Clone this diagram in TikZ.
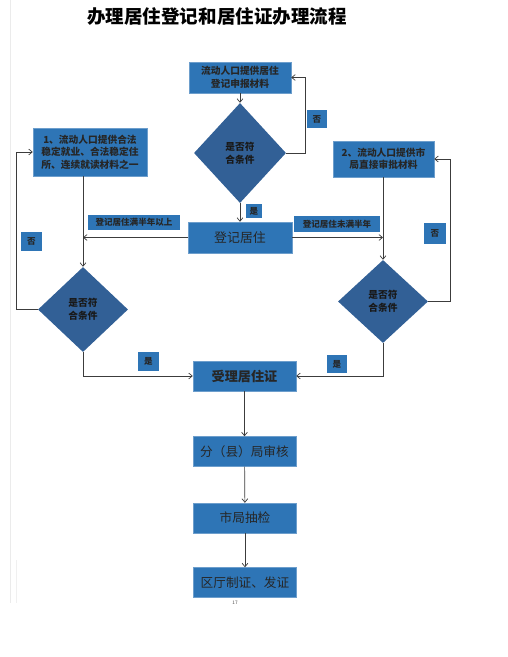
\documentclass[tikz,border=0pt]{standalone}
\usepackage{fontspec}
\setmainfont{Noto Sans CJK SC}
\usetikzlibrary{shapes.geometric,arrows.meta}
\definecolor{boxblue}{RGB}{46,117,182}
\definecolor{diablue}{RGB}{50,96,150}
\definecolor{linegray}{RGB}{60,60,60}
\tikzset{
  box/.style={rectangle, draw=boxblue!70!white, fill=boxblue, text=black!85, inner sep=1pt, align=center, font=\fontsize{8.3}{10.6}\selectfont\bfseries},
  bigbox/.style={box, minimum width=30.9mm, minimum height=9mm, font=\fontsize{10.8}{12}\selectfont},
  dia/.style={diamond, fill=diablue, text=black!90, inner sep=0pt, align=center, font=\fontsize{8.3}{11}\selectfont\bfseries},
  lbl/.style={rectangle, fill=boxblue, text=black!85, inner sep=0pt, align=center, font=\fontsize{7.3}{8}\selectfont\bfseries},
  arr/.style={draw=linegray, line width=0.6pt, -{Straight Barb[length=3pt,width=5pt]}}
}
\begin{document}
\begin{tikzpicture}[x=0.3mm,y=-0.3mm]
  \fill[white] (0,0) rectangle (507,657);
  \useasboundingbox (0,0) rectangle (507,657);
  % page edge
  \draw[black!8, line width=0.4pt] (10.5,0) -- (10.5,603);
  \draw[black!6, line width=0.4pt] (16,560) -- (16,603);
  % title
  \node[font=\fontsize{15.8}{17}\selectfont\bfseries] (title) at (217,17) {办理居住登记和居住证办理流程};
  % upper part
  \node[box, minimum width=30.6mm, minimum height=9.3mm] (A) at (240,77.5) {流动人口提供居住\\登记申报材料};
  \node[dia, minimum width=27.6mm, minimum height=30mm] (D1) at (240,153) {是否符\\合条件};
  \node[box, minimum width=31.2mm, minimum height=9.3mm, font=\fontsize{11}{12}\selectfont] (R) at (240,237.5) {登记居住};
  \node[box, minimum width=34.2mm, minimum height=14.4mm] (B) at (90,152) {1、流动人口提供合法\\稳定就业、合法稳定住\\所、连续就读材料之一};
  \node[dia, minimum width=27mm, minimum height=25.5mm] (D2) at (83,309.5) {是否符\\合条件};
  \node[box, minimum width=30.3mm, minimum height=10.8mm] (C) at (383.5,159) {2、流动人口提供市\\局直接审批材料};
  \node[dia, minimum width=27mm, minimum height=24.9mm] (D3) at (383,301.5) {是否符\\合条件};
  % lower part
  \node[bigbox, font=\fontsize{11.2}{12}\selectfont\bfseries] (S) at (244.5,376) {受理居住证};
  \node[bigbox] (F) at (244.5,451.5) {分（县）局审核};
  \node[bigbox] (J) at (245,518) {市局抽检};
  \node[bigbox] (Q) at (245,582.5) {区厅制证、发证};
  \node[font=\fontsize{4}{5}\selectfont, text=black!70] (page) at (235,603) {17};
  % labels
  \node[lbl, minimum width=27.6mm, minimum height=4.5mm] (l1) at (134,222.5) {登记居住满半年以上};
  \node[lbl, minimum width=25.8mm, minimum height=4.8mm] (l2) at (337,224) {登记居住未满半年};
  \node[lbl, minimum width=4.8mm, minimum height=4.2mm] (y1) at (254,211) {是};
  \node[lbl, minimum width=6mm, minimum height=5.4mm] (n1) at (317,119) {否};
  \node[lbl, minimum width=6.3mm, minimum height=5.7mm] (n2) at (31.5,241.5) {否};
  \node[lbl, minimum width=6.3mm, minimum height=5.7mm] (y2) at (148.5,361.5) {是};
  \node[lbl, minimum width=6.6mm, minimum height=6.3mm] (n3) at (435,233.5) {否};
  \node[lbl, minimum width=6mm, minimum height=5.4mm] (y3) at (337,364) {是};
  % connectors
  \draw[arr] (A) -- (D1);
  \draw[arr] (D1.east) -- ++(19,0) |- (A.east);
  \draw[arr] (D1) -- (R);
  \draw[arr] (R.west) -- (R.west -| D2.north);
  \draw[arr] (R.east) -- (R.east -| D3.north);
  \draw[arr] (B.south -| D2.north) -- (D2.north);
  \draw[arr] (C.south -| D3.north) -- (D3.north);
  \draw[arr] (D2.west) -- ++(-21,0) |- (B.west);
  \draw[arr] (D3.east) -- ++(22,0) |- (C.east);
  \draw[arr] (D2.south) |- (S.west);
  \draw[arr] (D3.south) |- (S.east);
  \draw[arr] (S) -- (F);
  \draw[arr] (F) -- (J);
  \draw[arr] (J) -- (Q);
\end{tikzpicture}
\end{document}
